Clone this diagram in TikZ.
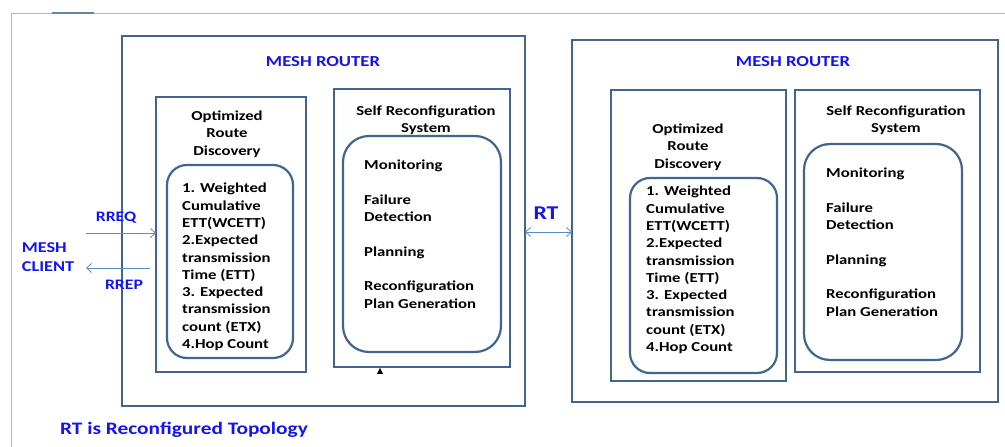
\documentclass[tikz,border=0pt]{standalone}
\usepackage{fontspec}
\setmainfont[FakeStretch=1.22]{Carlito}
\usepackage{xcolor}
\usepackage{tikz}
\usetikzlibrary{arrows.meta, positioning, shapes.geometric}

\definecolor{boxblue}{RGB}{65,101,143}
\definecolor{arrblue}{RGB}{95,140,200}
\definecolor{frameblue}{RGB}{170,185,205}
\definecolor{txtblue}{RGB}{20,20,240}

\tikzset{
  routerbox/.style={draw=boxblue, line width=2.6pt, minimum width=#1, inner sep=0pt, outer sep=0pt, anchor=north west},
  unitbox/.style={draw=boxblue, line width=2.2pt, inner sep=0pt, outer sep=0pt, anchor=north west},
  listbox/.style={draw=boxblue, line width=2.2pt, rounded corners=20pt, inner sep=0pt, outer sep=0pt, anchor=north west},
  plain/.style={font=\fontsize{13.7}{17.3}\selectfont\bfseries, inner sep=0pt},
  bluetxt/.style={text=txtblue, font=\fontsize{14.5}{17}\selectfont\bfseries, inner sep=0pt},
  flow/.style={draw=arrblue, line width=0.8pt, -{Straight Barb[length=5pt, width=9pt]}},
}

\begin{document}
\begin{tikzpicture}[x=1pt, y=-1pt]
    \useasboundingbox (0,0) rectangle (1005,447);

    % Page frame
    \draw[frameblue, line width=0.8pt] (11,447) -- (11,13) -- (1005,13);
    \draw[boxblue!80!white, line width=1.6pt] (52,13) -- (94,13);

    % Left mesh router
    \node[routerbox=403pt, minimum height=370pt] (rtrA) at (122,36) {};
    \node[bluetxt, font=\fontsize{15.3}{17}\selectfont\bfseries] (rtrAtitle) at (323,62) {MESH ROUTER};

    \node[unitbox, minimum width=150pt, minimum height=275pt] (ordA) at (156,97) {};
    \node[plain, align=center] (ordAtitle) at (227,134) {Optimized\\Route\\Discovery};
    \node[listbox, minimum width=126pt, minimum height=193pt] (ordlistA) at (167,165) {};
    \node[plain, align=left, anchor=north west] (ordtxtA) at (182,183)
        {1. Weighted\\Cumulative\\ETT(WCETT)\\2.Expected\\transmission\\Time (ETT)\\3. Expected\\transmission\\count (ETX)\\4.Hop Count};

    \node[unitbox, minimum width=176pt, minimum height=278pt] (srsA) at (334,89) {};
    \node[plain, align=center] (srsAtitle) at (426,120) {Self Reconfiguration\\System};
    \node[listbox, rounded corners=26pt, minimum width=158pt, minimum height=216pt] (srslistA) at (343,136) {};
    \node[plain, align=left, anchor=north west] (srstxtA) at (364,160)
        {Monitoring\\[17.3pt]Failure\\Detection\\[17.3pt]Planning\\[17.3pt]Reconfiguration\\Plan Generation};
    \node[isosceles triangle, shape border rotate=90, fill=black, minimum width=6pt, minimum height=6pt, inner sep=0pt, isosceles triangle stretches] (mark) at (380,372) {};

    % Right mesh router
    \node[routerbox=426pt, minimum height=362pt] (rtrB) at (572,40) {};
    \node[bluetxt, font=\fontsize{15.3}{17}\selectfont\bfseries] (rtrBtitle) at (793,62) {MESH ROUTER};

    \node[unitbox, minimum width=175pt, minimum height=291pt] (ordB) at (611,90) {};
    \node[plain, align=center] (ordBtitle) at (688,147) {Optimized\\Route\\Discovery};
    \node[listbox, minimum width=147pt, minimum height=195pt] (ordlistB) at (630,178) {};
    \node[plain, align=left, anchor=north west] (ordtxtB) at (646,186)
        {1. Weighted\\Cumulative\\ETT(WCETT)\\2.Expected\\transmission\\Time (ETT)\\3. Expected\\transmission\\count (ETX)\\4.Hop Count};

    \node[unitbox, minimum width=185pt, minimum height=282pt] (srsB) at (795,90) {};
    \node[plain, align=center] (srsBtitle) at (896,120) {Self Reconfiguration\\System};
    \node[listbox, rounded corners=26pt, minimum width=158pt, minimum height=216pt] (srslistB) at (804,144) {};
    \node[plain, align=left, anchor=north west] (srstxtB) at (826,168)
        {Monitoring\\[17.3pt]Failure\\Detection\\[17.3pt]Planning\\[17.3pt]Reconfiguration\\Plan Generation};

    % Reconfigured topology link
    \node[bluetxt, font=\fontsize{19.5}{20}\selectfont\bfseries] (rt) at (546,213) {RT};
    \coordinate (rtA) at (rtrA.east |- 0,232);
    \coordinate (rtB) at (rtrB.west |- 0,232);
    \draw[flow, {Straight Barb[length=5pt, width=9pt]}-{Straight Barb[length=5pt, width=9pt]}] (rtA) -- (rtB);

    % Mesh client and requests
    \node[bluetxt, align=left, font=\fontsize{15}{19}\selectfont\bfseries] (client) at (48,257) {MESH\\CLIENT};
    \coordinate (reqstart) at (86,233);
    \coordinate (repstart) at (150,268);
    \coordinate (repend) at (86,268);
    \draw[flow] (reqstart) -- (ordA.west |- reqstart);
    \draw[flow] (repstart) -- (repend);
    \node[bluetxt] (rreq) at (116,218) {RREQ};
    \node[bluetxt] (rrep) at (124,285) {RREP};

    % Footnote
    \node[bluetxt, font=\fontsize{17.5}{19}\selectfont\bfseries] (note) at (184,430) {RT is Reconfigured Topology};
\end{tikzpicture}
\end{document}
